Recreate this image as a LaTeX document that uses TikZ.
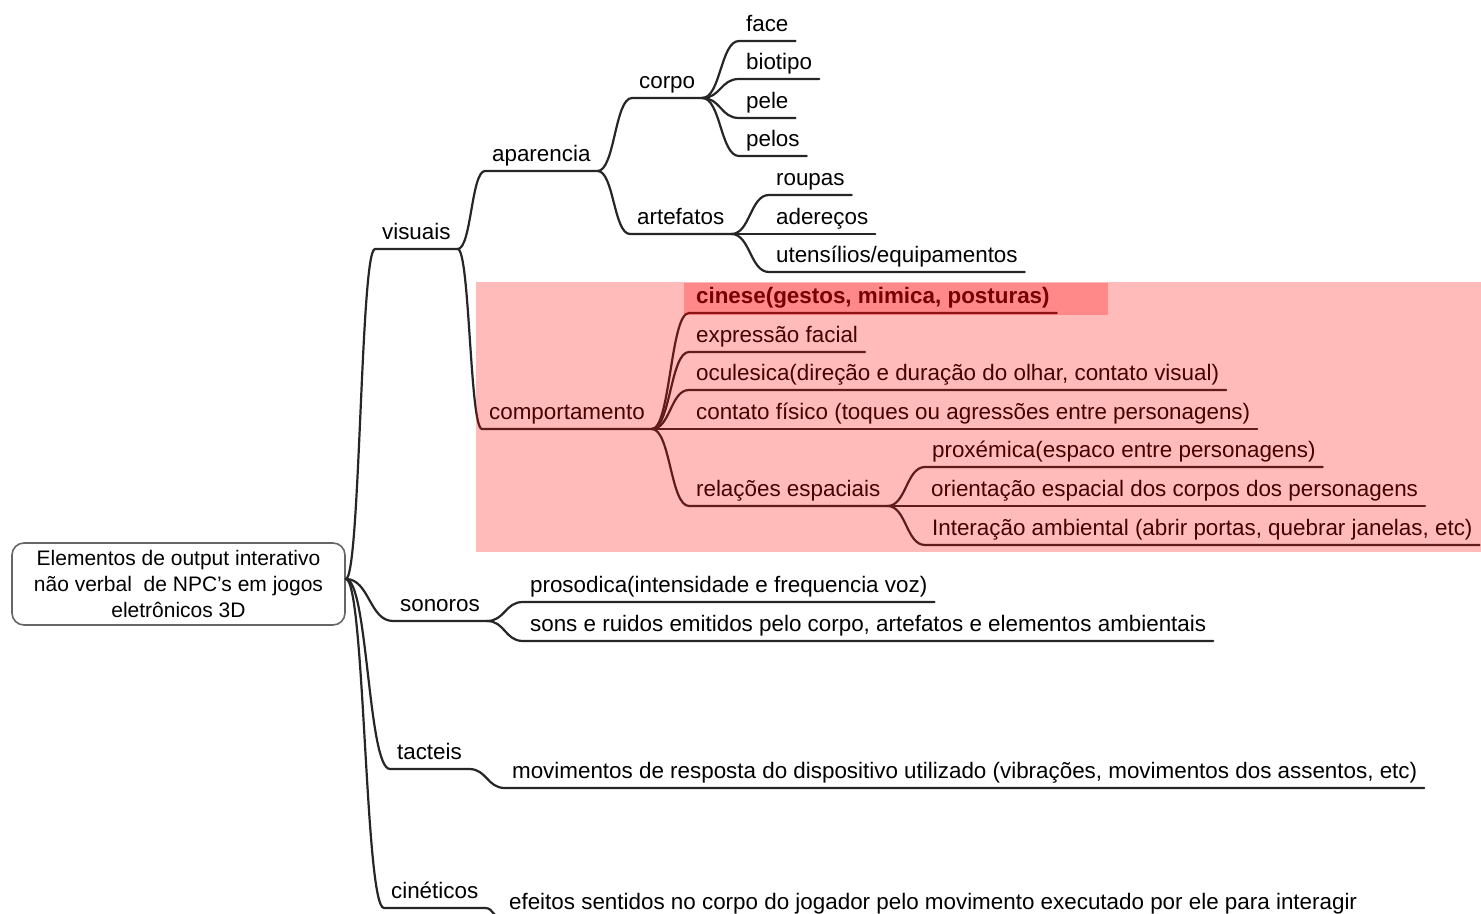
\documentclass[tikz,border=0pt]{standalone}
\usepackage{fontspec}
\setmainfont{Liberation Sans}
\usetikzlibrary{calc, positioning}

\tikzset{
  twig/.style={anchor=south west, inner xsep=3pt, inner ysep=0pt, text depth=4pt, font=\fontsize{11.2}{13}\selectfont},
  limb/.style={to path={(\tikztostart) .. controls ($(\tikztostart)!0.5!(\tikztostart -| \tikztotarget)$) and ($(\tikztotarget)!0.5!(\tikztotarget -| \tikztostart)$) .. (\tikztotarget)}},
  haze/.style={fill=red, fill opacity=0.27},
}

\begin{document}
\begin{tikzpicture}[x=0.5pt, y=-0.5pt, line width=1.1pt, draw=black!85, line cap=round]
    \useasboundingbox (0,0) rectangle (1481,914);
    % root
    \node[draw=black!60, line width=0.8pt, rounded corners=6pt, minimum width=166.5pt, minimum height=41pt,
          align=center, font=\fontsize{10.5}{13.2}\selectfont] (root) at (178.5,584)
        {Elementos de output interativo\\não verbal\ \ de NPC’s em jogos\\eletrônicos 3D};
    \coordinate (hub) at ([yshift=2.5pt]root.east);

    % first level
    \node[twig] (visuais) at (375,249) {visuais};
    \node[twig] (sonoros) at (393,621) {sonoros};
    \node[twig] (tacteis) at (390,769) {tacteis};
    \node[twig] (cineticos) at (384,908) {cinéticos};
    \draw (hub) to[limb] (visuais.south west) -- (visuais.south east);
    \draw (hub) to[limb] (sonoros.south west) -- (sonoros.south east);
    \draw (hub) to[limb] (tacteis.south west) -- (tacteis.south east);
    \draw (hub) to[limb] (cineticos.south west) -- (cineticos.south east);

    % visuais
    \node[twig] (aparencia) at (485,171) {aparencia};
    \node[twig] (comport) at (482,429) {comportamento};
    \draw (visuais.south east) to[limb] (aparencia.south west) -- (aparencia.south east);
    \draw (visuais.south east) to[limb] (comport.south west) -- (comport.south east);

    % aparencia
    \node[twig] (corpo) at (632,98) {corpo};
    \node[twig] (artefatos) at (630,234) {artefatos};
    \draw (aparencia.south east) to[limb] (corpo.south west) -- (corpo.south east);
    \draw (aparencia.south east) to[limb] (artefatos.south west) -- (artefatos.south east);

    % corpo
    \node[twig] (face) at (739,41) {face};
    \node[twig] (biotipo) at (739,79) {biotipo};
    \node[twig] (pele) at (739,118) {pele};
    \node[twig] (pelos) at (739,156) {pelos};
    \draw (corpo.south east) to[limb] (face.south west) -- (face.south east);
    \draw (corpo.south east) to[limb] (biotipo.south west) -- (biotipo.south east);
    \draw (corpo.south east) to[limb] (pele.south west) -- (pele.south east);
    \draw (corpo.south east) to[limb] (pelos.south west) -- (pelos.south east);

    % artefatos
    \node[twig] (roupas) at (769,195) {roupas};
    \node[twig] (aderecos) at (769,234) {adereços};
    \node[twig] (utensilios) at (769,272) {utensílios/equipamentos};
    \draw (artefatos.south east) to[limb] (roupas.south west) -- (roupas.south east);
    \draw (artefatos.south east) to[limb] (aderecos.south west) -- (aderecos.south east);
    \draw (artefatos.south east) to[limb] (utensilios.south west) -- (utensilios.south east);

    % comportamento
    \node[twig, font=\fontsize{11.2}{13}\selectfont\bfseries] (cinese) at (689,313) {cinese(gestos, mimica, posturas)};
    \node[twig] (expressao) at (689,352) {expressão facial};
    \node[twig] (oculesica) at (689,390) {oculesica(direção e duração do olhar, contato visual)};
    \node[twig] (contato) at (689,429) {contato físico (toques ou agressões entre personagens)};
    \node[twig] (relacoes) at (689,506) {relações espaciais};
    \draw (comport.south east) to[limb] (cinese.south west) -- (cinese.south east);
    \draw (comport.south east) to[limb] (expressao.south west) -- (expressao.south east);
    \draw (comport.south east) to[limb] (oculesica.south west) -- (oculesica.south east);
    \draw (comport.south east) to[limb] (contato.south west) -- (contato.south east);
    \draw (comport.south east) to[limb] (relacoes.south west) -- (relacoes.south east);

    % relacoes espaciais
    \node[twig] (proxemica) at (925,467) {proxémica(espaco entre personagens)};
    \node[twig] (orientacao) at (924,506) {orientação espacial dos corpos dos personagens};
    \node[twig] (interacao) at (925,545) {Interação ambiental (abrir portas, quebrar janelas, etc)};
    \draw (relacoes.south east) to[limb] (proxemica.south west) -- (proxemica.south east);
    \draw (relacoes.south east) to[limb] (orientacao.south west) -- (orientacao.south east);
    \draw (relacoes.south east) to[limb] (interacao.south west) -- (interacao.south east);

    % sonoros, tacteis, cineticos
    \node[twig] (prosodica) at (523,602) {prosodica(intensidade e frequencia voz)};
    \node[twig] (sons) at (523,641) {sons e ruidos emitidos pelo corpo, artefatos e elementos ambientais};
    \node[twig] (movimentos) at (505,788) {movimentos de resposta do dispositivo utilizado (vibrações, movimentos dos assentos, etc)};
    \node[twig] (efeitos) at (502,919) {efeitos sentidos no corpo do jogador pelo movimento executado por ele para interagir};
    \draw (sonoros.south east) to[limb] (prosodica.south west) -- (prosodica.south east);
    \draw (sonoros.south east) to[limb] (sons.south west) -- (sons.south east);
    \draw (tacteis.south east) to[limb] (movimentos.south west) -- (movimentos.south east);
    \draw (cineticos.south east) to[limb] (efeitos.south west) -- (efeitos.south east);

    % highlight
    \fill[haze] (476,282) rectangle (1481,552);
    \fill[haze] (684,283) rectangle (1108,315);
\end{tikzpicture}
\end{document}
